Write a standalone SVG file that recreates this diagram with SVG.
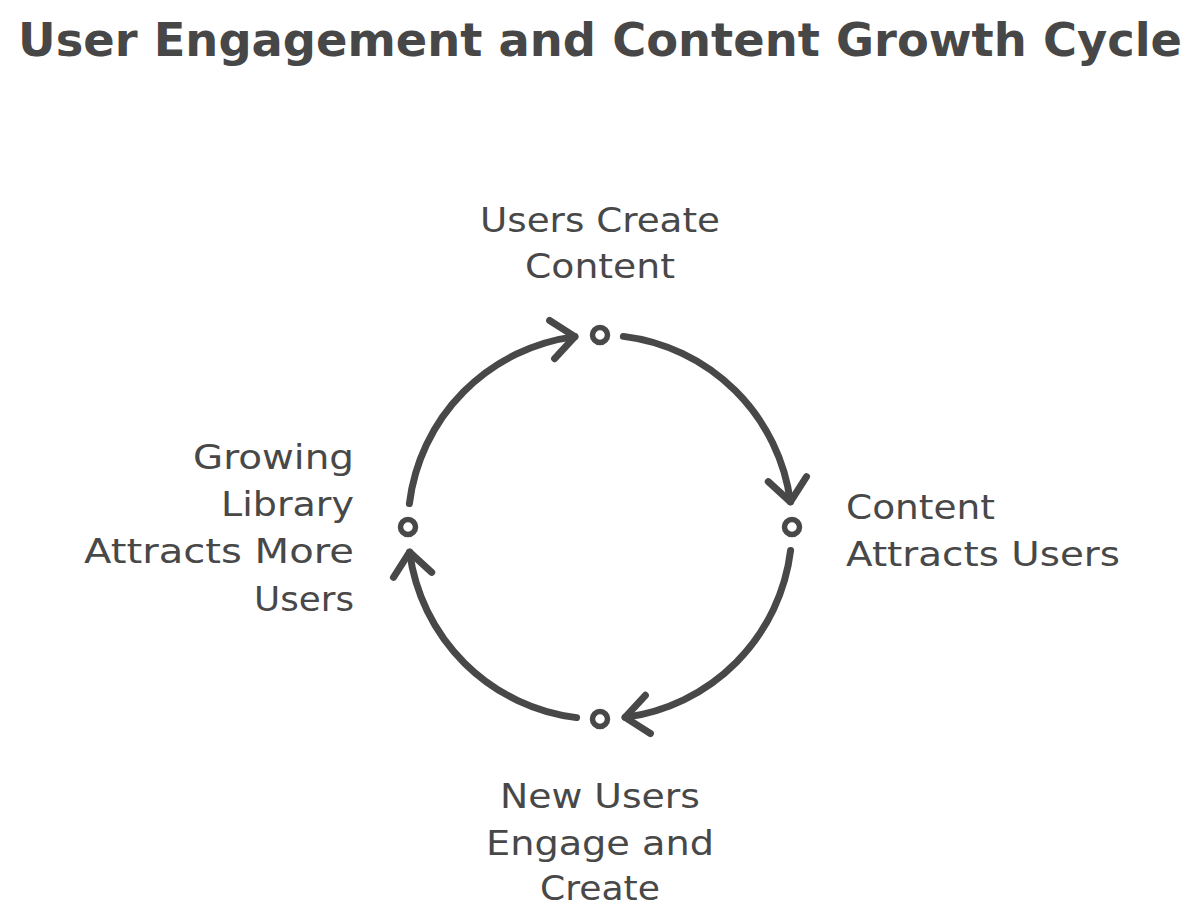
<svg xmlns="http://www.w3.org/2000/svg" width="1200" height="912" viewBox="0 0 1200 912">
<style>
.bg{fill:#ffffff}
.title{font-family:"DejaVu Sans","Liberation Sans",sans-serif;font-weight:bold;font-size:46px;fill:#474747}
.lbl{font-family:"DejaVu Sans","Liberation Sans",sans-serif;font-size:33px;fill:#484848}
.dot{fill:#ffffff;stroke:#484848;stroke-width:5.5}
.arc{fill:none;stroke:#484848;stroke-width:7;stroke-linecap:round;stroke-linejoin:round}
</style>
<defs>
<g id="conn">
<path class="arc" d="M 623.4 336.4 A 192 192 0 0 1 790.4 501.9"/>
<path class="arc" d="M 806.5 476.6 L 790.4 501.9 L 768.3 481.6"/>
</g>
</defs>
<rect class="bg" x="0" y="0" width="1200" height="912"/>
<text class="title" x="18" y="56" textLength="1164" lengthAdjust="spacingAndGlyphs">User Engagement and Content Growth Cycle</text>
<g id="connectors">
<use href="#conn"/>
<use href="#conn" transform="rotate(90 600 527)"/>
<use href="#conn" transform="rotate(180 600 527)"/>
<use href="#conn" transform="rotate(270 600 527)"/>
</g>
<g id="node-top">
<circle class="dot" cx="600" cy="335" r="7.5"/>
<text class="lbl" x="480" y="232" textLength="240" lengthAdjust="spacingAndGlyphs">Users Create</text>
<text class="lbl" x="525" y="278" textLength="150" lengthAdjust="spacingAndGlyphs">Content</text>
</g>
<g id="node-right">
<circle class="dot" cx="792" cy="527" r="7.5"/>
<text class="lbl" x="846" y="519" textLength="149" lengthAdjust="spacingAndGlyphs">Content</text>
<text class="lbl" x="846" y="566" textLength="274" lengthAdjust="spacingAndGlyphs">Attracts Users</text>
</g>
<g id="node-bottom">
<circle class="dot" cx="600" cy="719" r="7.5"/>
<text class="lbl" x="500" y="808" textLength="200" lengthAdjust="spacingAndGlyphs">New Users</text>
<text class="lbl" x="486" y="855" textLength="228" lengthAdjust="spacingAndGlyphs">Engage and</text>
<text class="lbl" x="540" y="900" textLength="120" lengthAdjust="spacingAndGlyphs">Create</text>
</g>
<g id="node-left">
<circle class="dot" cx="408" cy="527" r="7.5"/>
<text class="lbl" x="193" y="469" textLength="161" lengthAdjust="spacingAndGlyphs">Growing</text>
<text class="lbl" x="221" y="516" textLength="133" lengthAdjust="spacingAndGlyphs">Library</text>
<text class="lbl" x="84" y="563" textLength="270" lengthAdjust="spacingAndGlyphs">Attracts More</text>
<text class="lbl" x="254" y="611" textLength="100" lengthAdjust="spacingAndGlyphs">Users</text>
</g>
</svg>
